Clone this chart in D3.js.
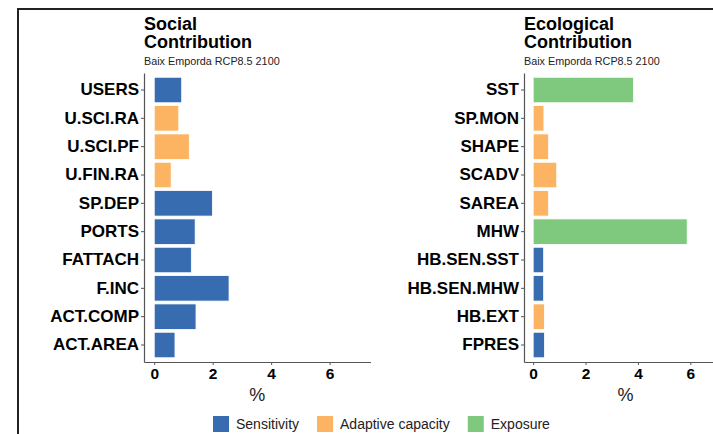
<!DOCTYPE html>
<html>
<head>
<meta charset="utf-8">
<script src="https://cdn.jsdelivr.net/npm/d3@7"></script>
<style>
  body { margin: 0; background: #fff; }
  svg { display: block; font-family: "Liberation Sans", Arial, sans-serif; }
</style>
</head>
<body>
<svg width="713" height="434"></svg>
<script>
// data (values in %)
var socialLabels = ["USERS", "U.SCI.RA", "U.SCI.PF", "U.FIN.RA", "SP.DEP", "PORTS", "FATTACH", "F.INC", "ACT.COMP", "ACT.AREA"];
var socialValues = [0.94, 0.84, 1.2, 0.58, 1.99, 1.4, 1.27, 2.56, 1.43, 0.71];
var socialGroups = ["Sensitivity", "Adaptive capacity", "Adaptive capacity", "Adaptive capacity", "Sensitivity", "Sensitivity", "Sensitivity", "Sensitivity", "Sensitivity", "Sensitivity"];

var ecoLabels = ["SST", "SP.MON", "SHAPE", "SCADV", "SAREA", "MHW", "HB.SEN.SST", "HB.SEN.MHW", "HB.EXT", "FPRES"];
var ecoValues = [3.83, 0.41, 0.59, 0.9, 0.59, 5.88, 0.4, 0.4, 0.43, 0.43];
var ecoGroups = ["Exposure", "Adaptive capacity", "Adaptive capacity", "Adaptive capacity", "Adaptive capacity", "Exposure", "Sensitivity", "Sensitivity", "Adaptive capacity", "Sensitivity"];

var groups = ["Sensitivity", "Adaptive capacity", "Exposure"];
var xTicks = [0, 2, 4, 6];

var svg = d3.select("svg");
var color = d3.scaleOrdinal().domain(groups).range(["#386cb0", "#fdb462", "#7fc97f"]);

// outer frame
svg.append("rect")
    .attr("x", 18).attr("y", 9)
    .attr("width", 760).attr("height", 500)
    .attr("fill", "none")
    .attr("stroke", "#222")
    .attr("stroke-width", 2);

function panel(opts) {
    var g = svg.append("g");
    var x = d3.scaleLinear().domain([-0.35, 7.4]).range([opts.left, opts.right]);
    var y = d3.scaleBand().domain(opts.labels).range([73, 362])
        .paddingInner(0.1).paddingOuter(0.15);

    // two-line title as one text
    var title = g.append("text")
        .attr("font-size", 18).attr("font-weight", "bold").attr("fill", "#000");
    title.append("tspan").attr("x", opts.left).attr("y", 30).text(opts.title[0]);
    title.append("tspan").attr("x", opts.left).attr("y", 48).text(opts.title[1]);

    g.append("text").attr("x", opts.left).attr("y", 65)
        .attr("font-size", 10.8).attr("fill", "#222")
        .text("Baix Emporda RCP8.5 2100");

    // bars
    g.selectAll("rect.bar")
        .data(opts.labels)
        .enter().append("rect")
        .attr("class", "bar")
        .attr("x", x(0))
        .attr("y", function(d) { return y(d); })
        .attr("width", function(d, i) { return x(opts.values[i]) - x(0); })
        .attr("height", y.bandwidth())
        .attr("fill", function(d, i) { return color(opts.groups[i]); })
        .attr("stroke", "#fff")
        .attr("stroke-width", 0.8);

    // y axis
    var yAxis = g.append("g")
        .attr("transform", "translate(" + opts.left + ",0)")
        .call(d3.axisLeft(y).tickSize(3).tickPadding(2).tickSizeOuter(0));
    yAxis.select(".domain").attr("stroke", "#555").attr("stroke-width", 1.2);
    yAxis.selectAll(".tick line").attr("stroke", "#555");
    yAxis.selectAll(".tick text")
        .attr("font-size", 17).attr("font-weight", "bold").attr("fill", "#000")
        .attr("font-family", "Liberation Sans, Arial, sans-serif");

    // x axis
    var xAxis = g.append("g")
        .attr("transform", "translate(0,362)")
        .call(d3.axisBottom(x).tickValues(xTicks).tickSize(3).tickPadding(3).tickSizeOuter(0));
    xAxis.select(".domain").attr("stroke", "#555").attr("stroke-width", 1.2);
    xAxis.selectAll(".tick line").attr("stroke", "#555");
    xAxis.selectAll(".tick text")
        .attr("font-size", 15.5).attr("font-weight", "bold").attr("fill", "#000")
        .attr("font-family", "Liberation Sans, Arial, sans-serif");

    g.append("text")
        .attr("x", (opts.left + opts.right) / 2).attr("y", 401)
        .attr("text-anchor", "middle")
        .attr("font-size", 18).attr("fill", "#222")
        .text("%");
}

panel({ left: 144, right: 370.5, labels: socialLabels, values: socialValues, groups: socialGroups,
        title: ["Social", "Contribution"] });
panel({ left: 524, right: 727, labels: ecoLabels, values: ecoValues, groups: ecoGroups,
        title: ["Ecological", "Contribution"] });

// legend
var legend = svg.append("g");
var lx = 213;
groups.forEach(function(name) {
    legend.append("rect")
        .attr("x", lx).attr("y", 416)
        .attr("width", 16).attr("height", 16)
        .attr("fill", color(name));
    var t = legend.append("text")
        .attr("x", lx + 23).attr("y", 429)
        .attr("font-size", 14).attr("fill", "#222")
        .text(name);
    lx += 23 + t.node().getComputedTextLength() + 18;
});
</script>
</body>
</html>
